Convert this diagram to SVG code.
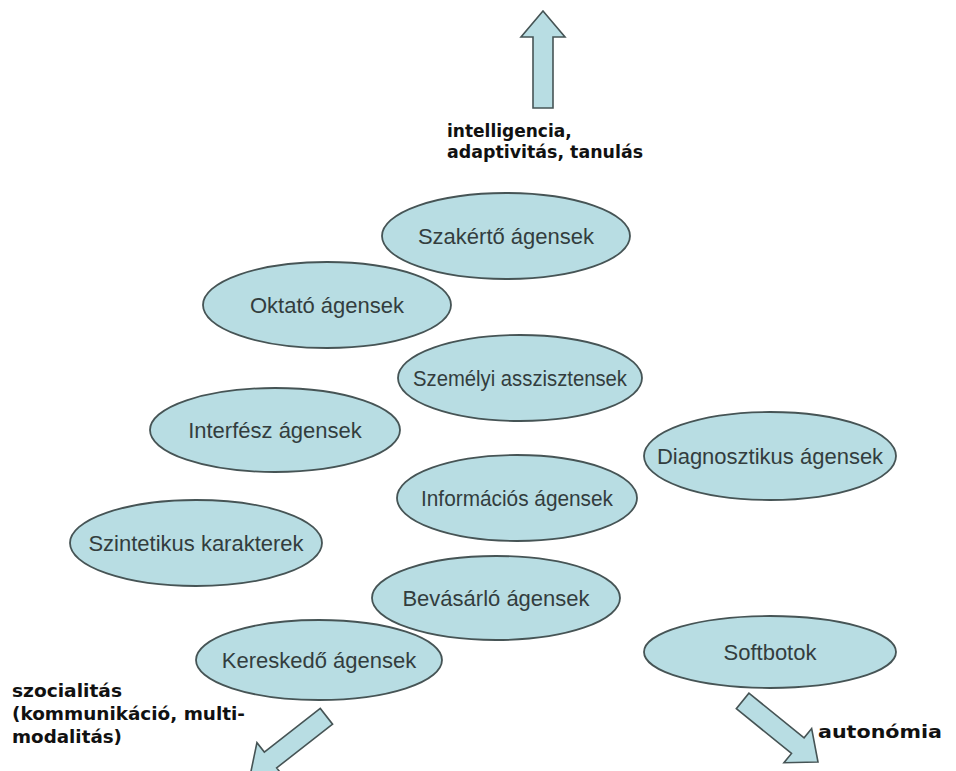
<svg xmlns="http://www.w3.org/2000/svg" width="956" height="771" viewBox="0 0 956 771">
<style>
.node ellipse{fill:#b8dde3;stroke:#465455;stroke-width:1.8}
.node text{font-family:"Liberation Sans",Arial,sans-serif;font-size:22px;fill:#333d3e;text-anchor:middle}
.lbl{font-family:"DejaVu Sans",Verdana,sans-serif;font-weight:bold;font-size:17px;fill:#111}
.arr{fill:#b8dde3;stroke:#465455;stroke-width:1.6;stroke-linejoin:miter}
</style>
<defs>
<polygon id="blockArrow" points="0,0 22,26 10,26 10,97 -10,97 -10,26 -22,26"/>
</defs>
<rect width="956" height="771" fill="#fff"/>
<g id="connectors">
<use href="#blockArrow" class="arr" transform="translate(543,11)"/>
<use href="#blockArrow" class="arr" transform="translate(818,762) rotate(129)"/>
<use href="#blockArrow" class="arr" transform="translate(250,776) rotate(-128)"/>
</g>
<g id="label-intelligencia">
<text class="lbl" x="447" y="137">intelligencia,</text>
<text class="lbl" x="447" y="158" textLength="196" lengthAdjust="spacingAndGlyphs">adaptivitás, tanulás</text>
</g>
<g id="label-szocialitas">
<text class="lbl" x="12" y="697" textLength="110" lengthAdjust="spacingAndGlyphs">szocialitás</text>
<text class="lbl" x="12" y="720" textLength="233" lengthAdjust="spacingAndGlyphs">(kommunikáció, multi-</text>
<text class="lbl" x="12" y="743" textLength="110" lengthAdjust="spacingAndGlyphs">modalitás)</text>
</g>
<g id="label-autonomia">
<text class="lbl" x="818" y="738" textLength="124" lengthAdjust="spacingAndGlyphs">autonómia</text>
</g>
<g id="szakerto" class="node"><ellipse cx="506" cy="236" rx="124" ry="43"/><text x="506" y="244">Szakértő ágensek</text></g>
<g id="oktato" class="node"><ellipse cx="327" cy="305" rx="124" ry="43"/><text x="327" y="313">Oktató ágensek</text></g>
<g id="szemelyi" class="node"><ellipse cx="520" cy="378" rx="122" ry="43"/><text x="520" y="386" textLength="214" lengthAdjust="spacingAndGlyphs">Személyi asszisztensek</text></g>
<g id="interfesz" class="node"><ellipse cx="275" cy="430" rx="125" ry="42"/><text x="275" y="438">Interfész ágensek</text></g>
<g id="diagnosztikus" class="node"><ellipse cx="770" cy="456" rx="126" ry="44"/><text x="770" y="464">Diagnosztikus ágensek</text></g>
<g id="informacios" class="node"><ellipse cx="517" cy="498" rx="120" ry="43"/><text x="517" y="506" textLength="192" lengthAdjust="spacingAndGlyphs">Információs ágensek</text></g>
<g id="szintetikus" class="node"><ellipse cx="196" cy="543" rx="126" ry="43"/><text x="196" y="551">Szintetikus karakterek</text></g>
<g id="bevasarlo" class="node"><ellipse cx="496" cy="598" rx="124" ry="42"/><text x="496" y="606">Bevásárló ágensek</text></g>
<g id="kereskedo" class="node"><ellipse cx="319" cy="660" rx="123" ry="40"/><text x="319" y="668">Kereskedő ágensek</text></g>
<g id="softbotok" class="node"><ellipse cx="770" cy="652" rx="126" ry="36"/><text x="770" y="660">Softbotok</text></g>
</svg>
